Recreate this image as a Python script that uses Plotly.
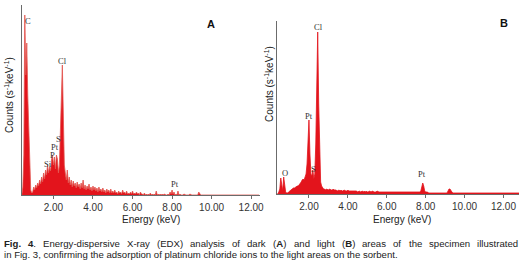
import plotly.graph_objects as go

# ---------------- data ----------------
# Panel A: energy grid 0.40 .. 12.40 keV, step 0.05 (241 channels)
energy_a_start, energy_step = 0.40, 0.05
counts_a = [
    0, 8, 40, 180, 120, 152, 100, 60, 30, 5,            # 0.40-0.85
    2, 3, 8, 5, 10, 7, 12, 9, 15, 11,                   # 0.90-1.35
    18, 13, 22, 16, 25, 20, 30, 22, 28, 24,             # 1.40-1.85
    35, 40, 30, 38, 26, 40, 36, 22, 30, 60,             # 1.90-2.35
    110, 130, 80, 30, 22, 15, 25, 12, 18, 10,           # 2.40-2.85
    15, 8, 14, 9, 12, 7, 13, 8, 11, 6,                  # 2.90-3.35
    12, 7, 15, 6, 10, 5, 9, 6, 11, 5,                   # 3.40-3.85
    8, 4, 9, 5, 8, 4, 7, 3, 8, 4,                       # 3.90-4.35
    6, 3, 7, 3, 5, 2, 6, 3, 5, 2,                       # 4.40-4.85
    6, 2, 4, 2, 5, 2, 3, 1, 4, 2,                       # 4.90-5.35
    3, 1, 5, 2, 3, 1, 4, 1, 2, 1,                       # 5.40-5.85
    3, 1, 4, 1, 2, 1, 3, 1, 2, 0,                       # 5.90-6.35
    3, 1, 1, 0, 2, 0, 1, 0, 1, 0,                       # 6.40-6.85
    2, 0, 1, 0, 1, 0, 4, 0, 1, 0,                       # 6.90-7.35
    1, 0, 1, 0, 1, 0, 0, 0, 1, 0,                       # 7.40-7.85
    3, 1, 5, 1, 3, 0, 1, 0, 4, 0,                       # 7.90-8.35
    1, 0, 0, 0, 1, 0, 0, 0, 0, 0,                       # 8.40-8.85
    1, 0, 0, 0, 0, 0, 0, 0, 0, 3,                       # 8.90-9.35
    1, 0, 0, 0, 0, 0, 0, 0, 0, 0,                       # 9.40-9.85
    0, 0, 0, 0, 0, 0, 0, 0, 0, 0,                       # 9.90-10.35
    0, 0, 0, 0, 0, 0, 0, 0, 0, 0,                       # 10.40-10.85
    0, 0, 0, 0, 0, 0, 0, 0, 0, 0,                       # 10.90-11.35
    0, 0, 0, 0, 0, 0, 0, 0, 0, 0,                       # 11.40-11.85
    0, 0, 0, 0, 0, 0, 0, 0, 0, 0,                       # 11.90-12.35
    0,                                                  # 12.40
]

# Panel B: energy grid 0.35 .. 12.80 keV, step 0.05
energy_b_start = 0.35
counts_b = [
    0, 0, 2, 5, 16, 6, 3, 17, 8, 2,                     # 0.35-0.80
    1, 1, 2, 3, 4, 5, 5, 6, 6, 7,                       # 0.85-1.30
    7, 8, 8, 9, 10, 12, 14, 15, 14, 17,                 # 1.35-1.80
    20, 30, 50, 74, 40, 20, 18, 24, 15, 20,             # 1.85-2.30
    50, 120, 162, 90, 30, 12, 8, 6, 5, 5,               # 2.35-2.80
    4, 5, 4, 4, 5, 4, 4, 4, 5, 4,                       # 2.85-3.30
    4, 4, 3, 4, 4, 3, 4, 3, 3, 4,                       # 3.35-3.80
    3, 3, 3, 4, 3, 3, 3, 3, 3, 3,                       # 3.85-4.30
    3, 3, 3, 2, 3, 3, 2, 3, 3, 2,                       # 4.35-4.80
    3, 2, 3, 2, 2, 3, 2, 2, 3, 2,                       # 4.85-5.30
    2, 2, 2, 3, 2, 2, 2, 2, 2, 2,                       # 5.35-5.80
    2, 2, 2, 2, 2, 2, 2, 2, 2, 2,                       # 5.85-6.30
    2, 2, 2, 2, 2, 2, 2, 2, 2, 2,                       # 6.35-6.80
    2, 2, 2, 2, 2, 2, 2, 2, 2, 2,                       # 6.85-7.30
    2, 2, 2, 2, 2, 2, 2, 2, 3, 6,                       # 7.35-7.80
    11, 8, 3, 2, 2, 2, 1, 1, 1, 1,                      # 7.85-8.30
    1, 1, 1, 1, 1, 1, 1, 1, 1, 1,                       # 8.35-8.80
    1, 1, 1, 1, 1, 1, 3, 5, 5, 3,                       # 8.85-9.30
    2, 1, 1, 1, 1, 1, 1, 1, 1, 1,                       # 9.35-9.80
    1, 1, 1, 1, 1, 1, 1, 1, 1, 1,                       # 9.85-10.30
    1, 1, 1, 1, 1, 1, 1, 1, 1, 1,                       # 10.35-10.80
    1, 1, 1, 1, 1, 1, 1, 1, 1, 1,                       # 10.85-11.30
    1, 1, 1, 1, 1, 1, 1, 1, 1, 1,                       # 11.35-11.80
    1, 1, 1, 1, 1, 1, 1, 1, 1, 1,                       # 11.85-12.30
    1, 1, 1, 1, 1, 1, 1, 1, 1, 1,                       # 12.35-12.80
]

tick_vals = [2, 4, 6, 8, 10, 12]
tick_text = ["2.00", "4.00", "6.00", "8.00", "10.00", "12.00"]

labels_a = ["C", "Cl", "S", "Pt", "P", "Si", "Pt"]
label_a_x = [0.70, 2.46, 2.28, 2.08, 1.96, 1.71, 8.14]
label_a_y = [174, 134, 56, 48, 40, 31, 11]

labels_b = ["O", "Pt", "S", "Cl", "Pt"]
label_b_x = [0.79, 2.0, 2.22, 2.47, 7.83]
label_b_y = [21, 78, 25, 167, 20]

# caption words; "*" marks bold characters
caption_line1 = ["*Fig.", "*4.", "Energy-dispersive", "X-ray", "(EDX)", "analysis", "of",
                 "dark", "(*A)", "and", "light", "(*B)", "areas", "of", "the",
                 "specimen", "illustrated"]
caption_line2 = "in Fig. 3, confirming the adsorption of platinum chloride ions to the light areas on the sorbent."

energy_a = [round(energy_a_start + i * energy_step, 2) for i in range(len(counts_a))]
energy_b = [round(energy_b_start + i * energy_step, 2) for i in range(len(counts_b))]

RED = "#e3141c"
W, H = 526, 267

fig = go.Figure()
fig.add_trace(go.Scatter(x=energy_a, y=counts_a, mode="lines", fill="tozeroy",
                         fillcolor=RED, line=dict(color="#e2564f", width=0.8),
                         xaxis="x", yaxis="y", hoverinfo="skip"))
fig.add_trace(go.Scatter(x=energy_b, y=counts_b, mode="lines", fill="tozeroy",
                         fillcolor=RED, line=dict(color=RED, width=0.8),
                         xaxis="x2", yaxis="y2", hoverinfo="skip"))

axis_common = dict(showgrid=False, zeroline=False, showline=True,
                   linecolor="#6b6b6b", linewidth=1)
xa = dict(axis_common, tickvals=tick_vals, ticktext=tick_text, ticks="outside",
          ticklen=3, tickcolor="#6b6b6b",
          tickfont=dict(family="Liberation Sans", size=10, color="#333333"))
ya = dict(axis_common, showticklabels=False, ticks="")

fig.update_layout(
    width=W, height=H, margin=dict(l=0, r=0, t=0, b=0),
    paper_bgcolor="white", plot_bgcolor="white", showlegend=False,
    xaxis=dict(xa, domain=[22 / W, 262 / W], range=[0.4, 12.45], anchor="y"),
    yaxis=dict(ya, domain=[1 - 195 / H, 1 - 5 / H], range=[0, 190], anchor="x"),
    xaxis2=dict(xa, domain=[279 / W, 523 / W], range=[0.35, 12.80], anchor="y2"),
    yaxis2=dict(ya, domain=[1 - 194 / H, 1 - 21 / H], range=[0, 173], anchor="x2"),
)

ann = []
serif = dict(family="Liberation Serif", size=8.5, color="#333333")
for t, x, y in zip(labels_a, label_a_x, label_a_y):
    ann.append(dict(text=t, x=x, y=y, xref="x", yref="y", showarrow=False,
                    font=serif, xanchor="center", yanchor="middle"))
for t, x, y in zip(labels_b, label_b_x, label_b_y):
    ann.append(dict(text=t, x=x, y=y, xref="x2", yref="y2", showarrow=False,
                    font=serif, xanchor="center", yanchor="middle"))


def paper_text(text, px, py, font, xanchor="center", angle=0):
    return dict(text=text, x=px / W, y=1 - py / H, xref="paper", yref="paper",
                showarrow=False, xanchor=xanchor, yanchor="middle",
                textangle=angle, font=font, borderpad=0)


sans = dict(family="Liberation Sans", size=10, color="#222222")
bold_lbl = dict(family="Liberation Sans", size=11, color="#111111")
CAP_SIZE = 9.6
cap = dict(family="Liberation Sans", size=CAP_SIZE, color="#222222")
ann += [
    paper_text("<b>A</b>", 213, 24, bold_lbl),
    paper_text("<b>B</b>", 508, 23, bold_lbl),
    paper_text("Energy (keV)", 152, 219, sans),
    paper_text("Energy (keV)", 405, 219, sans),
    paper_text("Counts (s<sup>-1</sup>keV<sup>-1</sup>)", 9, 95, sans, angle=-90),
    paper_text("Counts (s<sup>-1</sup>keV<sup>-1</sup>)", 271, 84, sans, angle=-90),
    paper_text(caption_line2, 3, 254, cap, xanchor="left"),
]

# --- justified first caption line (Arial/Liberation Sans advance widths) ---
REG = {"(": 333, ")": 333, "-": 333, ".": 278, "A": 667, "B": 667, "D": 722,
       "E": 667, "X": 667, "a": 556, "c": 500, "d": 556, "e": 556, "g": 556,
       "h": 556, "i": 222, "k": 500, "l": 222, "m": 833, "n": 556, "o": 556,
       "p": 556, "r": 333, "s": 500, "t": 278, "u": 556, "v": 500, "y": 500,
       "f": 278}
BOLD = {"F": 611, "i": 278, "g": 611, ".": 278, "4": 556, "A": 722, "B": 722}


def word_markup_and_width(word):
    out, width, bold_next, i = "", 0.0, False, 0
    while i < len(word):
        ch = word[i]
        if ch == "*":
            bold_next = True
            i += 1
            continue
        if bold_next:
            j = i
            run = ""
            while j < len(word) and word[j] not in "()":
                run += word[j]
                j += 1
            if word.startswith("*4"):
                run = "4"
                j = i + 1
            out += "<b>" + run + "</b>"
            width += sum(BOLD.get(c, 556) for c in run)
            bold_next = False
            i = j
            continue
        out += ch
        width += REG.get(ch, 556)
        i += 1
    return out, width * CAP_SIZE / 1000.0


words = [word_markup_and_width(w) for w in caption_line1]
x_left, x_right = 3.0, 521.0
total_w = sum(w for _, w in words)
gap = (x_right - x_left - total_w) / (len(words) - 1)
xpos = x_left
for markup, wpx in words:
    ann.append(paper_text(markup, xpos, 243, cap, xanchor="left"))
    xpos += wpx + gap

fig.update_layout(annotations=ann)

fig.write_html("out.html", config={"displayModeBar": False},
               post_script="document.body.style.margin='0';document.body.style.padding='0';"
                           "document.body.style.overflow='hidden';")
